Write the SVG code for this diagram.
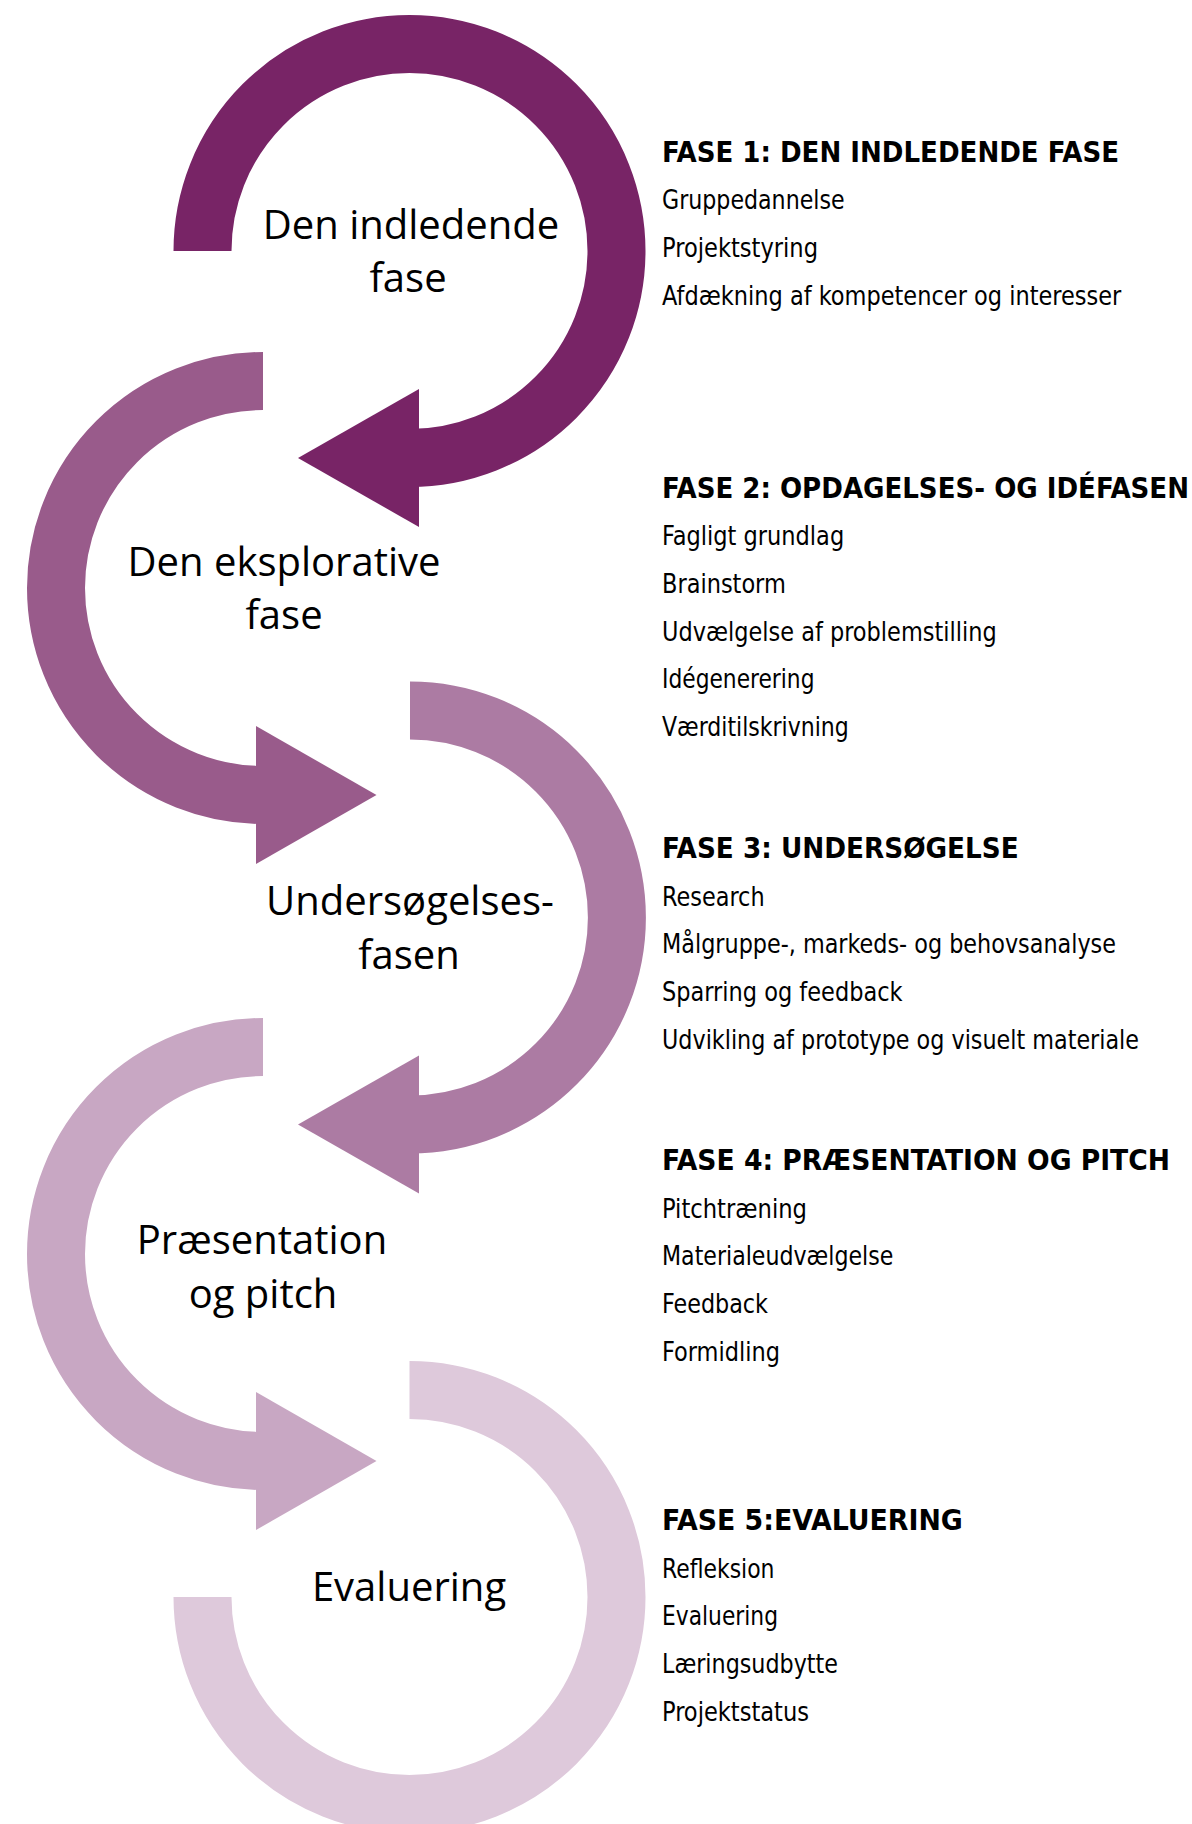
<svg xmlns="http://www.w3.org/2000/svg" width="1192" height="1824" viewBox="0 0 1192 1824">
  <style>
    .ring { fill: none; stroke: currentColor; stroke-width: 58; stroke-linecap: butt; }
    .tip { fill: currentColor; stroke: none; }
    .label { font-family: "Open Sans", "Noto Sans", sans-serif; font-size: 40px; fill: #000; text-anchor: middle; }
    .head { font-family: "Liberation Sans Narrow", "DejaVu Sans Condensed", "Liberation Sans", sans-serif; font-stretch: condensed; font-weight: bold; font-size: 28px; fill: #000; }
    .item { font-family: "Liberation Sans Narrow", "DejaVu Sans Condensed", "Liberation Sans", sans-serif; font-stretch: condensed; font-size: 27px; fill: #000; }
    .p1 { color: #782466; }
    .p2 { color: #995B8B; }
    .p3 { color: #AC7BA3; }
    .p4 { color: #C8A7C3; }
    .p5 { color: #DEC9DB; }
  </style>

  <rect width="1192" height="1824" fill="#fff"/>

  <!-- curved arrows leading from one phase to the next -->
  <g id="connectors">
    <g id="arrow-1" class="p1">
      <path class="ring" d="M 202.5 251 A 207 207 0 1 1 409.5 458"/>
      <polygon class="tip" points="419,389 298,458 419,527"/>
    </g>
    <g id="arrow-2" class="p2">
      <path class="ring" d="M 263 381 A 207 207 0 0 0 263 795"/>
      <polygon class="tip" points="256,726 376.5,795 256,864"/>
    </g>
    <g id="arrow-3" class="p3">
      <path class="ring" d="M 410 710.5 A 207 207 0 0 1 410 1124.5"/>
      <polygon class="tip" points="419,1055.5 298,1124.5 419,1193.5"/>
    </g>
    <g id="arrow-4" class="p4">
      <path class="ring" d="M 263 1047 A 207 207 0 0 0 263 1461"/>
      <polygon class="tip" points="256,1392 376.5,1461 256,1530"/>
    </g>
    <g id="arrow-5" class="p5">
      <path class="ring" d="M 409.5 1390 A 207 207 0 1 1 202.5 1597"/>
    </g>
  </g>

  <!-- phase 1 -->
  <g id="phase-1">
    <text class="label" x="411" y="238.5">Den indledende</text>
    <text class="label" x="408" y="292">fase</text>
    <text class="head" x="662" y="161.5" textLength="457" lengthAdjust="spacingAndGlyphs">FASE 1: DEN INDLEDENDE FASE</text>
    <text class="item" x="662" y="209.3" textLength="182.6" lengthAdjust="spacingAndGlyphs">Gruppedannelse</text>
    <text class="item" x="662" y="257" textLength="156" lengthAdjust="spacingAndGlyphs">Projektstyring</text>
    <text class="item" x="662" y="304.7" textLength="459.3" lengthAdjust="spacingAndGlyphs">Afdækning af kompetencer og interesser</text>
  </g>

  <!-- phase 2 -->
  <g id="phase-2">
    <text class="label" x="284" y="575.5">Den eksplorative</text>
    <text class="label" x="284" y="629">fase</text>
    <text class="head" x="662" y="497.7" textLength="527" lengthAdjust="spacingAndGlyphs">FASE 2: OPDAGELSES- OG IDÉFASEN</text>
    <text class="item" x="662" y="545.4" textLength="182.2" lengthAdjust="spacingAndGlyphs">Fagligt grundlag</text>
    <text class="item" x="662" y="593" textLength="123.8" lengthAdjust="spacingAndGlyphs">Brainstorm</text>
    <text class="item" x="662" y="640.7" textLength="334.7" lengthAdjust="spacingAndGlyphs">Udvælgelse af problemstilling</text>
    <text class="item" x="662" y="688.4" textLength="152.5" lengthAdjust="spacingAndGlyphs">Idégenerering</text>
    <text class="item" x="662" y="736" textLength="186.8" lengthAdjust="spacingAndGlyphs">Værditilskrivning</text>
  </g>

  <!-- phase 3 -->
  <g id="phase-3">
    <text class="label" x="410" y="915">Undersøgelses-</text>
    <text class="label" x="409" y="968.5">fasen</text>
    <text class="head" x="662" y="858" textLength="356.7" lengthAdjust="spacingAndGlyphs">FASE 3: UNDERSØGELSE</text>
    <text class="item" x="662" y="905.7" textLength="102.6" lengthAdjust="spacingAndGlyphs">Research</text>
    <text class="item" x="662" y="953.4" textLength="454" lengthAdjust="spacingAndGlyphs">Målgruppe-, markeds- og behovsanalyse</text>
    <text class="item" x="662" y="1001" textLength="240.6" lengthAdjust="spacingAndGlyphs">Sparring og feedback</text>
    <text class="item" x="662" y="1048.8" textLength="477" lengthAdjust="spacingAndGlyphs">Udvikling af prototype og visuelt materiale</text>
  </g>

  <!-- phase 4 -->
  <g id="phase-4">
    <text class="label" x="262" y="1254">Præsentation</text>
    <text class="label" x="263" y="1308">og pitch</text>
    <text class="head" x="662" y="1170" textLength="508" lengthAdjust="spacingAndGlyphs">FASE 4: PRÆSENTATION OG PITCH</text>
    <text class="item" x="662" y="1217.7" textLength="145" lengthAdjust="spacingAndGlyphs">Pitchtræning</text>
    <text class="item" x="662" y="1265.4" textLength="231.4" lengthAdjust="spacingAndGlyphs">Materialeudvælgelse</text>
    <text class="item" x="662" y="1313" textLength="106" lengthAdjust="spacingAndGlyphs">Feedback</text>
    <text class="item" x="662" y="1360.8" textLength="118" lengthAdjust="spacingAndGlyphs">Formidling</text>
  </g>

  <!-- phase 5 -->
  <g id="phase-5">
    <text class="label" x="409" y="1601">Evaluering</text>
    <text class="head" x="662" y="1530" textLength="300.8" lengthAdjust="spacingAndGlyphs">FASE 5:EVALUERING</text>
    <text class="item" x="662" y="1577.7" textLength="112.5" lengthAdjust="spacingAndGlyphs">Refleksion</text>
    <text class="item" x="662" y="1625.4" textLength="116" lengthAdjust="spacingAndGlyphs">Evaluering</text>
    <text class="item" x="662" y="1673" textLength="176" lengthAdjust="spacingAndGlyphs">Læringsudbytte</text>
    <text class="item" x="662" y="1720.8" textLength="147" lengthAdjust="spacingAndGlyphs">Projektstatus</text>
  </g>
</svg>
